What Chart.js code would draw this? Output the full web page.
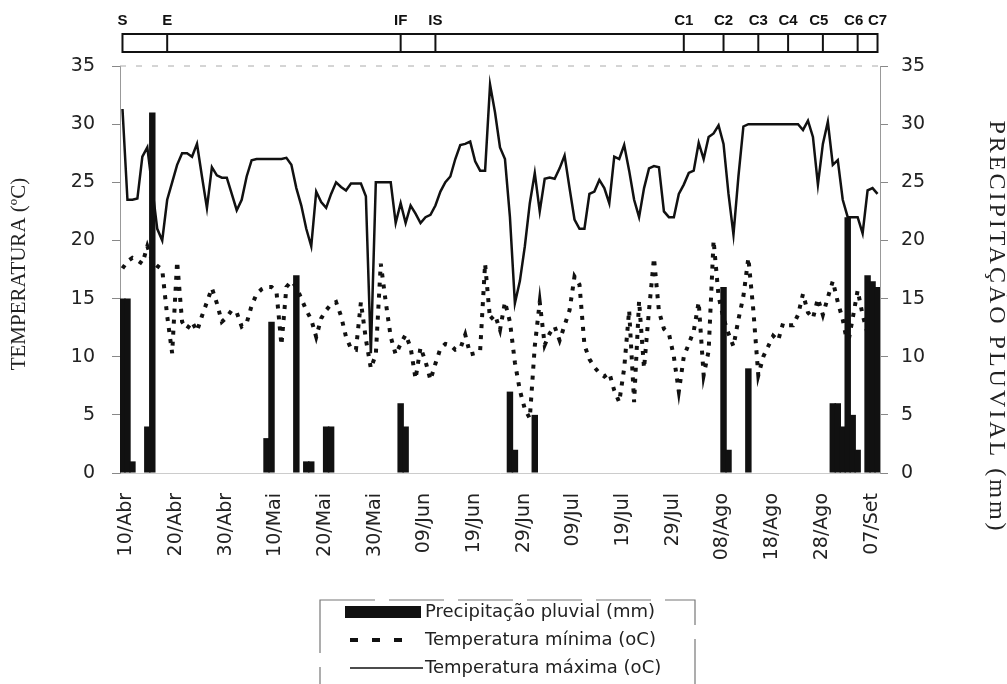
<!DOCTYPE html>
<html lang="pt">
<head>
<meta charset="utf-8">
<title>Temperatura e precipitação pluvial</title>
<script src="https://cdn.jsdelivr.net/npm/chart.js@4.4.1/dist/chart.umd.min.js"></script>
<style>
  html, body { margin: 0; padding: 0; background: #fff; }
  #wrap { width: 1007px; height: 684px; }
</style>
</head>
<body>
<div id="wrap"><canvas id="grafico" width="1007" height="684"></canvas></div>
<script>
// dias de 10/Abr a 09/Set (um valor por dia)
const meses = ['Abr', 'Mai', 'Jun', 'Jul', 'Ago', 'Set'];
const diasNoMes = [30, 31, 30, 31, 31, 30];
const diaInicial = 10;

// rótulos mostrados no eixo X
const rotulosEixo = ['10/Abr', '20/Abr', '30/Abr', '10/Mai', '20/Mai', '30/Mai', '09/Jun', '19/Jun',
  '29/Jun', '09/Jul', '19/Jul', '29/Jul', '08/Ago', '18/Ago', '28/Ago', '07/Set'];

const tempMaxima = [
  31.3, 23.5, 23.5, 23.6, 27.2, 28, 24.5, 21, 20, 23.5,
  25, 26.5, 27.5, 27.5, 27.2, 28.3, 25.5, 22.8, 26.3, 25.6,
  25.4, 25.4, 24, 22.6, 23.5, 25.5, 26.9, 27, 27, 27,
  27, 27, 27, 27.1, 26.5, 24.5, 23, 21, 19.5, 24.2,
  23.3, 22.8, 24, 25, 24.6, 24.3, 24.9, 24.9, 24.9, 23.8,
  10.3, 25, 25, 25, 25, 21.5, 23.2, 21.5, 23, 22.3,
  21.5, 22, 22.2, 23, 24.2, 25, 25.5, 27, 28.2, 28.3,
  28.5, 26.8, 26, 26, 33.4, 31, 28, 27, 22, 14.6,
  16.5, 19.5, 23.2, 25.8, 22.5, 25.3, 25.4, 25.3, 26.2, 27.3,
  24.5, 21.8, 21, 21, 24, 24.2, 25.2, 24.5, 23.2, 27.2,
  27, 28.2, 26, 23.5, 22, 24.5, 26.2, 26.4, 26.3, 22.5,
  22, 22, 24, 24.8, 25.8, 26, 28.4, 27, 28.9, 29.2,
  29.9, 28.3, 24, 20.5, 25.5, 29.8, 30, 30, 30, 30,
  30, 30, 30, 30, 30, 30, 30, 29.5, 30.3, 28.9,
  24.8, 28.3, 30.2, 26.5, 26.9, 23.5, 22, 22, 22, 20.6,
  24.3, 24.5, 24
];

const tempMinima = [
  17.6, 18.2, 18.5, 18.3, 18, 19.5, 18.2, 17.8, 17.5, 13.5,
  10.3, 18.2, 13, 12.4, 13, 12.2, 13.5, 14.7, 15.9, 14.6,
  13, 13.4, 14, 13.8, 12.6, 12.9, 14.4, 15.4, 15.8, 16,
  16, 15.6, 11, 16, 16.5, 16, 15, 14, 13.2, 11.7,
  13.3, 14, 14.5, 14.7, 13.5, 11.7, 10.7, 10.6, 14.7, 11.5,
  9, 10.2, 18, 14.7, 11.7, 10.2, 11.1, 11.9, 10.8, 8.1,
  10.8, 9.6, 8, 9.4, 10.7, 11.1, 11, 10.6, 10.7, 11.9,
  10.2, 10.3, 10.5, 18, 13.2, 13.6, 12.3, 14.7, 13, 9.5,
  7.1, 5.5, 4.7, 10.9, 14.7, 11, 12, 12.6, 11.4, 12.7,
  14, 16.9, 16.2, 11, 9.8, 9.1, 8.6, 8.3, 8.6, 7.1,
  6.1, 9, 14, 6.1, 14.8, 9, 14, 18.5, 13.9, 12.4,
  12, 10, 7, 10, 11.1, 12.2, 14.7, 8.4, 10.5, 20,
  15.2, 13.3, 12, 10.9, 13.2, 15.2, 18.5, 14, 8.4, 10,
  10.9, 11.8, 11.4, 12.9, 12.7, 12.7, 13.6, 15.4, 13.8, 13.3,
  15, 13.6, 15.1, 16.5, 14.7, 13.2, 11, 13.3, 15.7, 13.6,
  12, 10.5, 12
];

const precipitacao = [
  15, 15, 1, 0, 0, 4, 31, 0, 0, 0,
  0, 0, 0, 0, 0, 0, 0, 0, 0, 0,
  0, 0, 0, 0, 0, 0, 0, 0, 0, 3,
  13, 0, 0, 0, 0, 17, 0, 1, 1, 0,
  0, 4, 4, 0, 0, 0, 0, 0, 0, 0,
  0, 0, 0, 0, 0, 0, 6, 4, 0, 0,
  0, 0, 0, 0, 0, 0, 0, 0, 0, 0,
  0, 0, 0, 0, 0, 0, 0, 0, 7, 2,
  0, 0, 0, 5, 0, 0, 0, 0, 0, 0,
  0, 0, 0, 0, 0, 0, 0, 0, 0, 0,
  0, 0, 0, 0, 0, 0, 0, 0, 0, 0,
  0, 0, 0, 0, 0, 0, 0, 0, 0, 0,
  0, 16, 2, 0, 0, 0, 9, 0, 0, 0,
  0, 0, 0, 0, 0, 0, 0, 0, 0, 0,
  0, 0, 0, 6, 6, 4, 22, 5, 2, 0,
  17, 16.5, 16
];

// fases fenológicas (índice do dia em que cada fase começa)
const fases = ['S', 'E', 'IF', 'IS', 'C1', 'C2', 'C3', 'C4', 'C5', 'C6', 'C7'];
const diasFase = [0, 9, 56, 63, 113, 121, 128, 134, 141, 148, 152];

const ticksY = [0, 5, 10, 15, 20, 25, 30, 35];

// monta os rótulos diários "dd/Mmm"
const dias = [];
let mes = 0, dia = diaInicial;
for (let i = 0; i < tempMaxima.length; i++) {
  dias.push(String(dia).padStart(2, '0') + '/' + meses[mes]);
  dia++;
  if (dia > diasNoMes[mes]) { dia = 1; mes++; }
}

const PRETO = '#111';
const fonteSans = '"DejaVu Sans", Arial, sans-serif';
const fonteSerif = '"Liberation Serif", "Times New Roman", serif';

// faixa das fases, títulos dos eixos e legenda
const extras = {
  id: 'extras',
  afterDraw(chart) {
    const { ctx, chartArea, scales: { x } } = chart;
    ctx.save();

    // linha superior tracejada
    ctx.strokeStyle = '#aaa';
    ctx.lineWidth = 1;
    ctx.setLineDash([6, 10]);
    ctx.beginPath();
    ctx.moveTo(chartArea.left, chartArea.top);
    ctx.lineTo(chartArea.right, chartArea.top);
    ctx.stroke();
    ctx.setLineDash([]);

    // faixa das fases
    const xs = diasFase.map(d => x.getPixelForValue(d));
    const topo = 34, base = 52;
    ctx.strokeStyle = PRETO;
    ctx.lineWidth = 2;
    ctx.strokeRect(xs[0], topo, xs[xs.length - 1] - xs[0], base - topo);
    xs.slice(1, -1).forEach(px => {
      ctx.beginPath();
      ctx.moveTo(px, topo);
      ctx.lineTo(px, base);
      ctx.stroke();
    });
    ctx.fillStyle = PRETO;
    ctx.font = 'bold 15px "Liberation Sans", Arial, sans-serif';
    ctx.textAlign = 'center';
    ctx.textBaseline = 'middle';
    fases.forEach((f, i) => ctx.fillText(f, xs[i] - (i > 7 && i < 10 ? 4 : 0), 21));

    // títulos dos eixos
    ctx.fillStyle = '#222';
    ctx.font = '21px ' + fonteSerif;
    ctx.save();
    ctx.translate(19, 274);
    ctx.rotate(-Math.PI / 2);
    ctx.fillText('TEMPERATURA (ºC)', 0, 0);
    ctx.restore();

    ctx.save();
    ctx.font = '24px ' + fonteSerif;
    ctx.letterSpacing = '3px';
    ctx.translate(996, 327);
    ctx.rotate(Math.PI / 2);
    ctx.fillText('PRECIPITAÇÃO PLUVIAL (mm)', 0, 0);
    ctx.restore();

    // legenda
    const [dsPrec, dsMin, dsMax] = chart.data.datasets;
    ctx.strokeStyle = '#777';
    ctx.lineWidth = 1.2;
    ctx.setLineDash([55, 14]);
    ctx.strokeRect(320, 600, 375, 100);
    ctx.setLineDash([]);

    ctx.fillStyle = dsPrec.backgroundColor;
    ctx.fillRect(345, 606, 76, 12);

    ctx.strokeStyle = dsMin.borderColor;
    ctx.lineWidth = 4;
    ctx.setLineDash([8, 14]);
    ctx.beginPath();
    ctx.moveTo(350, 640);
    ctx.lineTo(405, 640);
    ctx.stroke();
    ctx.setLineDash([]);

    ctx.strokeStyle = dsMax.borderColor;
    ctx.lineWidth = 1.5;
    ctx.beginPath();
    ctx.moveTo(350, 668);
    ctx.lineTo(423, 668);
    ctx.stroke();

    ctx.fillStyle = '#222';
    ctx.font = '18px ' + fonteSans;
    ctx.textAlign = 'left';
    [dsPrec, dsMin, dsMax].forEach((ds, i) => ctx.fillText(ds.label, 425, 612 + i * 28));

    ctx.restore();
  }
};

const eixoY = (posicao, padding) => ({
  position: posicao,
  min: 0,
  max: 35,
  afterBuildTicks: s => { s.ticks = ticksY.map(v => ({ value: v })); },
  grid: { drawOnChartArea: false, drawTicks: true, tickLength: 8, color: '#888' },
  border: { display: true, color: '#999', width: 1, dash: [34, 8] },
  ticks: { color: '#222', padding: padding, font: { family: fonteSans, size: 19 } }
});

new Chart(document.getElementById('grafico'), {
  type: 'bar',
  data: {
    labels: dias,
    datasets: [
      {
        type: 'bar',
        label: 'Precipitação pluvial (mm)',
        data: precipitacao,
        yAxisID: 'y2',
        backgroundColor: PRETO,
        barPercentage: 1.3,
        categoryPercentage: 1
      },
      {
        type: 'line',
        label: 'Temperatura mínima (oC)',
        data: tempMinima,
        yAxisID: 'y',
        borderColor: PRETO,
        borderWidth: 4,
        borderDash: [4, 7],
        pointRadius: 0,
        tension: 0
      },
      {
        type: 'line',
        label: 'Temperatura máxima (oC)',
        data: tempMaxima,
        yAxisID: 'y',
        borderColor: PRETO,
        borderWidth: 2.5,
        pointRadius: 0,
        tension: 0
      }
    ]
  },
  options: {
    responsive: false,
    animation: false,
    layout: { padding: { top: 66, left: 0, right: 0, bottom: 0 } },
    plugins: { legend: { display: false }, tooltip: { enabled: false } },
    scales: {
      x: {
        afterFit: s => { s.height = 211; },
        grid: { display: false },
        border: { display: true, color: '#ccc', width: 1 },
        ticks: {
          autoSkip: false,
          minRotation: 90,
          maxRotation: 90,
          padding: 12,
          labelOffset: 4,
          color: '#222',
          font: { family: fonteSans, size: 19 },
          callback: (v, i) => rotulosEixo.includes(dias[i]) ? dias[i] : ''
        }
      },
      y: { ...eixoY('left', 17), afterFit: s => { s.width = 120; } },
      y2: { ...eixoY('right', 13), afterFit: s => { s.width = 127; } }
    }
  },
  plugins: [extras]
});
</script>
</body>
</html>
